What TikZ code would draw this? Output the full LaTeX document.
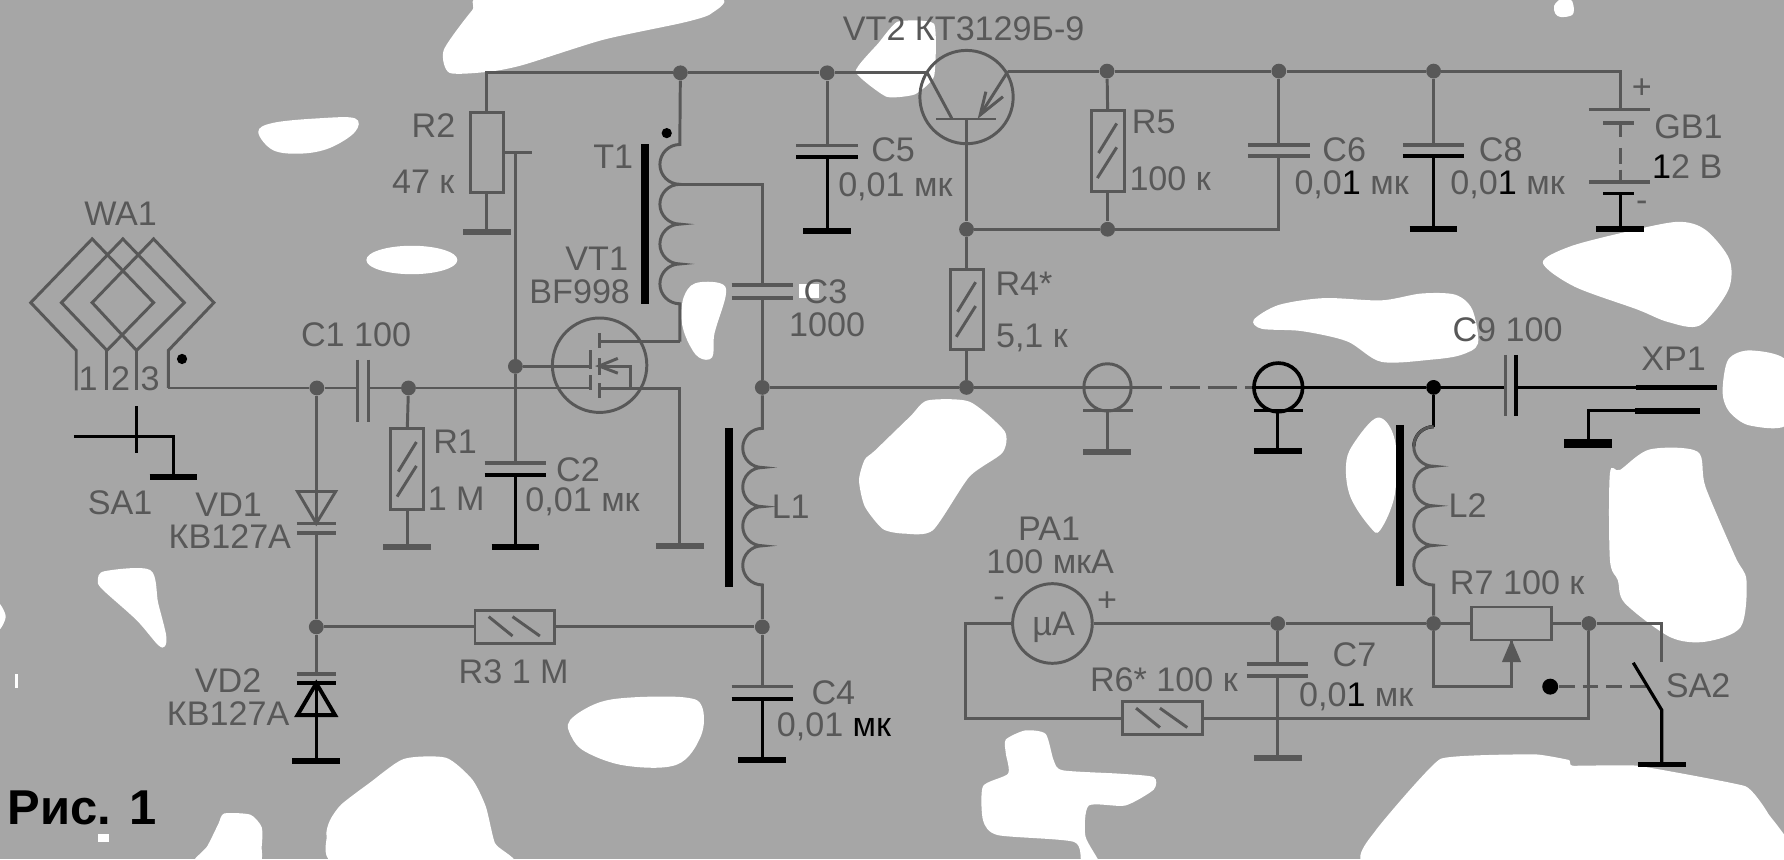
\documentclass[tikz,border=0pt]{standalone}
\usepackage{fontspec}
\setmainfont{Liberation Sans}
\definecolor{ink}{HTML}{585858}
\definecolor{bgray}{HTML}{A6A6A6}
\tikzset{
  wire/.style={draw=ink,line width=1.3pt},
  wirek/.style={draw=black,line width=1.4pt},
  core/.style={draw=black,line width=3.5pt},
  dot/.style={circle,fill=ink,minimum size=6.5pt,inner sep=0pt},
  dotk/.style={circle,fill=black,minimum size=6.5pt,inner sep=0pt},
  resbox/.style={rectangle,draw=ink,line width=1.3pt,inner sep=0pt},
  resv/.style={resbox,minimum width=14.5pt,minimum height=35.5pt},
  resh/.style={resbox,minimum width=35pt,minimum height=14.5pt},
  lbl/.style={text=ink,inner sep=0pt,font=\fontsize{15}{17}\selectfont},
  blob/.style={fill=white}
}
\begin{document}
\begin{tikzpicture}[x=0.5pt,y=-0.5pt]
\useasboundingbox (0,0) rectangle (1568,755);
\fill[bgray] (0,0) rectangle (1568,755);

% white patches
\fill[blob] plot[smooth cycle,tension=.4] coordinates {(390,44) (415,9) (430,-3) (627,-3) (625,12) (600,20) (530,35) (460,57) (430,63) (395,64)};
\fill[blob] plot[smooth cycle,tension=.3] coordinates {(752,63) (772,38) (789,19) (821,21) (821,67) (804,83) (779,85)};
\fill[blob] plot[smooth cycle,tension=.6] coordinates {(227,116) (240,108) (280,104) (312,104) (312,116) (290,130) (265,135) (240,132)};
\fill[blob] (362,228.5) ellipse [x radius=40,y radius=12.5];
\fill[blob] plot[smooth cycle,tension=.6] coordinates {(601,261) (611,249) (633,249) (638,259) (628,293) (626,314) (614,314) (604,299) (599,281)};
\fill[blob] (702,250) rectangle (720,262);
\fill[blob] plot[smooth cycle,tension=.5] coordinates {(86,510) (92,502) (132,501) (139,530) (146,558) (145,568) (139,567) (120,545) (90,518)};
\fill[blob] plot[smooth cycle,tension=.6] coordinates {(-2,530) (5,542) (-2,554)};
\fill[blob] (13,592) rectangle (16,605);
\fill[blob] (86,733) rectangle (96,740);
\fill[blob] plot[smooth cycle,tension=.6] coordinates {(501,633) (525,618) (555,613) (602,613) (617,621) (616,647) (595,672) (550,673) (515,661) (502,647)};
\fill[blob] plot[smooth cycle,tension=.4] coordinates {(355,667) (392,666) (415,685) (427,709) (435,741) (448,760) (298,760) (287,735) (290,721) (300,707) (325,688)};
\fill[blob] plot[smooth cycle,tension=.4] coordinates {(192,724) (197,715) (220,716) (230,727) (230,744) (226,760) (170,760) (182,744)};
\fill[blob] plot[smooth cycle,tension=.4] coordinates {(884,650) (901,642) (919,645) (926,668) (934,677) (984,680) (1014,683) (1014,694) (989,708) (957,708) (954,735) (967,760) (951,760) (944,740) (877,734) (864,721) (864,691) (886,680) (884,662)};
\fill[blob] plot[smooth cycle,tension=.2] coordinates {(1204,760) (1209,730) (1266,667) (1349,663) (1379,668) (1382,673) (1439,673) (1534,691) (1554,715) (1572,760)};
\fill[blob] plot[smooth cycle,tension=.5] coordinates {(1415,416) (1424,413) (1450,395) (1492,397) (1499,428) (1525,489) (1535,510) (1530,551) (1499,564) (1468,560) (1428,530) (1422,510) (1415,492)};
\fill[blob] plot[smooth cycle,tension=.5] coordinates {(1356,231) (1379,217) (1424,205) (1474,195) (1499,202) (1520,228) (1519,255) (1494,286) (1466,283) (1439,272) (1384,252)};
\fill[blob] plot[smooth cycle,tension=.5] coordinates {(1102,281) (1124,268) (1164,262) (1214,264) (1249,258) (1279,259) (1294,272) (1299,302) (1284,312) (1259,316) (1214,318) (1184,300) (1144,291) (1109,289)};
\fill[blob] plot[smooth cycle,tension=.6] coordinates {(1366,5) (1372,-1) (1380,-1) (1383,5) (1382,13) (1372,15) (1367,12)};
\fill[blob] plot[smooth cycle,tension=.5] coordinates {(1514,345) (1519,316) (1539,308) (1572,319) (1572,372) (1538,374) (1520,362)};
\fill[blob] plot[smooth cycle,tension=.4] coordinates {(815,352) (852,353) (883,379) (881,398) (852,419) (820,466) (795,469) (776,465) (760,445) (755,422) (760,404) (769,396) (800,366)};
\fill[blob] plot[smooth cycle,tension=.6] coordinates {(1211,367) (1226,387) (1226,434) (1213,466) (1204,463) (1187,437) (1183,410) (1189,391)};

% junctions
\foreach \n/\x/\y in {topA/598/64,topB/727/64,topC/973/62.5,topD/1124/62.5,topE/1260/62.5,
  nIn/278.5/341,nCa/359/341,nGate/453/322,nOut/670/340.5,nRf/849.5/340.5,
  nBase/849.5/201.5,nRc/973.5/201.5,nVd/278/551,nLo/670/551,nCm/1123/548,nRa/1260/548,nRb/1396.5/548}
  \node[dot] (\n) at (\x,\y) {};
\node[dotk] (nXp) at (1260,340.5) {};

% resistors
\node[resv] (R1) at (358,412.5) {};
\node[resv] (R2) at (428,134) {};
\node[resh] (R3) at (452.5,551) {};
\node[resv] (R4) at (849.5,272) {};
\node[resv] (R5) at (973.5,132.5) {};
\node[resh] (R6) at (1021.5,631.4) {};
\node[resh] (R7) at (1328.5,548) {};
\foreach \r in {R1,R4,R5} {
  \draw[wire] ([shift={(8,-24)}]\r.center) -- ([shift={(-8,2)}]\r.center);
  \draw[wire] ([shift={(8,-3)}]\r.center) -- ([shift={(-9,24)}]\r.center);
}
\foreach \r in {R3,R6} {
  \draw[wire] ([shift={(-23,-9)}]\r.center) -- ([shift={(-2,8)}]\r.center);
  \draw[wire] ([shift={(-2,-9)}]\r.center) -- ([shift={(22,8)}]\r.center);
}

% capacitors, plates across the lead
\foreach \n/\x/\ya/\yb/\ca/\cb in {C2/453/407/417.5/ink/black,C3/670/250.5/262/ink/ink,
  C4/670/603.5/614.5/ink/black,C5/727/128/138/ink/black,C6/1124/127.5/137/ink/ink,
  C7/1123/583.5/594/ink/ink,C8/1260/127.5/137/ink/black} {
  \coordinate (\n a) at (\x,\ya);
  \coordinate (\n b) at (\x,\yb);
  \draw[line width=1.5pt,\ca] ([shift={(-27,0)}]\n a) -- ([shift={(27,0)}]\n a);
  \draw[line width=1.5pt,\cb] ([shift={(-27,0)}]\n b) -- ([shift={(27,0)}]\n b);
}

% ground bars
\foreach \n/\x/\y/\c in {gRtwo/428/204/ink,gSw/152.5/419/black,gRone/358/481/ink,gCtwo/453/481/black,
  gVd/278/669/black,gVt/597.5/480/ink,gCfive/727/203/black,gBat/1424/201.5/black,gCeight/1260/201.5/black,
  gCfour/670/668/black,gCxa/973/397/ink,gCxb/1123/396.5/black,gCseven/1123/666.5/ink,gSwb/1460.5/672/black} {
  \coordinate (\n) at (\x,\y);
  \draw[line width=2.5pt,\c] ([shift={(-21,0)}]\n) -- ([shift={(21,0)}]\n);
}
\coordinate (gXp) at (1396,390);
\draw[line width=4pt,black] ([shift={(-21,0)}]gXp) -- ([shift={(21,0)}]gXp);

% supply rail and its branches
\coordinate (railL) at (428,64);
\coordinate (vtE) at (815,64);
\coordinate (vtC) at (886,62.5);
\coordinate (railR) at (1424,62.5);
\coordinate (batT) at (1424,96);
\draw[wire] (R2.north) -- (railL) -- (topA) -- (topB) -- (vtE);
\draw[wire] (vtC) -- (topC) -- (topD) -- (topE) -- (railR) -- (batT);
\draw[wire] (R2.south) -- (gRtwo);
\draw[wire] (topB) -- (C5a);
\draw[wirek] (C5b) -- (gCfive);
\draw[wire] (topC) -- (R5.north);
\draw[wire] (R5.south) -- (nRc);
\draw[wire] (topD) -- (C6a);
\draw[wire] (C6b) |- (nRc);
\draw[wire] (nRc) -- (nBase);
\draw[wire] (topE) -- (C8a);
\draw[wirek] (C8b) -- (gCeight);

% battery
\draw[line width=1.5pt,ink] (1396.5,96) -- (1450.5,96);
\draw[line width=1.5pt,ink] (1409,108) -- (1436.5,108);
\draw[wire] (1424,108) -- (1424,120) (1424,130) -- (1424,144) (1424,149) -- (1424,160);
\draw[line width=1.5pt,ink] (1396.5,160) -- (1450.5,160);
\draw[line width=1.5pt,black] (1409,170) -- (1436.5,170);
\draw[wirek] (1424,170) -- (gBat);

% VT2
\node[draw=ink,line width=1.3pt,circle,minimum size=41pt,inner sep=0pt] (VT2) at (849.5,85.3) {};
\coordinate (vtB) at (849.5,104.6);
\draw[wire] (823,104.6) -- (875.5,104.6);
\draw[wire] (vtE) -- (836.5,104);
\draw[wire] (vtC) -- (861.5,101);
\draw[wire] (866.5,80.6) -- (861.5,101) -- (881.5,85);
\draw[wire] (vtB) -- (nBase) -- (R4.north);
\draw[wire] (R4.south) -- (nRf);

% antenna
\draw[wire] (67,343) -- (67,308) -- (27,266) -- (81,210) -- (135,266) -- (94,308) -- (54,266) -- (108,210) -- (162,266) -- (120,308) -- (81,266) -- (135,210) -- (188,266) -- (148,308) -- (148,341);
\draw[wire] (94,308) -- (94,343);
\draw[wire] (120,308) -- (120,343);
\fill[black] (160,315.5) circle [radius=4.5];

% SA1
\coordinate (swA) at (65,384);
\coordinate (swB) at (152.5,384);
\draw[wirek] (swA) -- (swB) -- (gSw);
\draw[line width=1.7pt,black] (120,357) -- (120,398);

% input line
\coordinate (antEnd) at (148,341);
\coordinate (caL) at (314,341);
\coordinate (caR) at (324,341);
\coordinate (gateB) at (519,341);
\coordinate (gateA) at (519,322);
\draw[wire] (antEnd) -- (nIn) -- (caL);
\draw[wire] (caR) -- (nCa) -- (gateB);
\draw[wire] (314,316) -- (314,371);
\draw[wire] (324,316) -- (324,371);
\draw[wire] (nCa) -- (R1.north);
\draw[wire] (R1.south) -- (gRone);

% wiper of R2 and the gate
\coordinate (wipR) at (468,134);
\coordinate (wipV) at (453,134);
\draw[wire] (R2.east) -- (wipR);
\draw[wire] (wipV) -- (nGate) -- (C2a);
\draw[wirek] (C2b) -- (gCtwo);
\draw[wire] (nGate) -- (gateA);

% VT1
\node[draw=ink,line width=1.3pt,circle,minimum size=41.5pt,inner sep=0pt] (VT1) at (527,321) {};
\draw[wire] (519,308) -- (519,324) (519,330) -- (519,343);
\draw[wire] (526.5,293) -- (526.5,306) (526.5,315) -- (526.5,330) (526.5,337) -- (526.5,350);
\draw[wire] (543,315) -- (526.5,321.7) -- (543,328);
\coordinate (vtD) at (526.5,300.3);
\coordinate (vtS) at (526.5,341.3);
\coordinate (vtBd) at (526.5,321.7);
\coordinate (cnD) at (597.5,300.3);
\coordinate (cnS) at (597.5,341.3);
\draw[wire] (vtBd) -- (554.5,321.7) -- (554.5,341.3);
\draw[wire] (vtD) -- (cnD);
\draw[wire] (vtS) -- (cnS) -- (gVt);

% T1
\coordinate (tTop) at (597.5,127);
\coordinate (tTap) at (597.5,162);
\coordinate (tBot) at (597.5,267);
\draw[core] (567,127) -- (567,267);
\draw[wire] (topA) -- (tTop) arc[start angle=270,end angle=90,radius=17.5] arc[start angle=270,end angle=90,radius=17.5] arc[start angle=270,end angle=90,radius=17.5] arc[start angle=270,end angle=90,radius=17.5] -- (cnD);
\fill[black] (586,117) circle [radius=4.5];
\coordinate (tCorner) at (670,162);
\draw[wire] (tTap) -- (tCorner) -- (C3a);
\draw[wire] (C3b) -- (nOut);

% L1 and the low branch
\coordinate (lTop) at (670,376.5);
\draw[core] (640.5,376.5) -- (640.5,516);
\draw[wire] (nOut) -- (lTop) arc[start angle=270,end angle=90,radius=17.2] arc[start angle=270,end angle=90,radius=17.2] arc[start angle=270,end angle=90,radius=17.2] arc[start angle=270,end angle=90,radius=17.2] -- (nLo);
\draw[wire] (nLo) -- (C4a);
\draw[wirek] (C4b) -- (gCfour);
\draw[wire] (nVd) -- (R3.west);
\draw[wire] (R3.east) -- (nLo);

% VD1, VD2
\coordinate (dOne) at (278,460);
\coordinate (dTwo) at (278,592.5);
\coordinate (dThree) at (278,600.5);
\draw[wire] (nIn) -- (278.5,432);
\draw[wire] (261.5,432) -- (295,432) -- (dOne) -- cycle;
\draw[wire] (278,432) -- (dOne);
\draw[line width=1.5pt,ink] (261,460) -- (295,460);
\draw[line width=1.5pt,ink] (261,468.5) -- (295,468.5);
\draw[wire] (278,468.5) -- (nVd) -- (dTwo);
\draw[line width=1.5pt,ink] (261,592.5) -- (295,592.5);
\draw[line width=1.7pt,black] (261,600.5) -- (295,600.5);
\draw[line width=1.7pt,black] (261.5,628.5) -- (294.5,628.5) -- (dThree) -- cycle;
\draw[wirek] (dThree) -- (gVd);

% output line and coax
\node[draw=ink,line width=1.3pt,circle,minimum size=20.8pt,inner sep=0pt] (cxA) at (973.4,340.5) {};
\node[draw=black,line width=1.6pt,circle,minimum size=21.4pt,inner sep=0pt] (cxB) at (1123.5,340.5) {};
\draw[wire] (nOut) -- (nRf) -- (cxA.east);
\draw[wire,dash pattern=on 13pt off 3.5pt] (cxA.east) -- (cxB.west);
\coordinate (caNine) at (1323,340.5);
\coordinate (cbNine) at (1332.5,340.5);
\coordinate (xpA) at (1438,340.5);
\coordinate (xpB) at (1509,340.5);
\draw[wirek] (cxB.west) -- (nXp) -- (caNine);
\draw[wirek] (cbNine) -- (xpA);
\draw[line width=2.5pt,black] (xpA) -- (xpB);
\draw[wire] (1323,312) -- (1323,366);
\draw[wirek] (1332.5,312) -- (1332.5,366);
\coordinate (xpC) at (1437,361);
\coordinate (xpD) at (1494,361);
\coordinate (xpE) at (1396,361);
\draw[line width=2.5pt,black] (xpC) -- (xpD);
\draw[wirek] (gXp) -- (xpE) -- (xpC);
% stubs under the coax rings
\draw[line width=1.5pt,ink] (952,360.8) -- (995.4,360.8);
\draw[line width=1.7pt,black] (1102,360.8) -- (1145,360.8);
\draw[wire] (973,360.8) -- (gCxa);
\draw[wirek] (1123,360.8) -- (gCxb);

% L2
\coordinate (mTop) at (1260,375);
\draw[core] (1230.5,373.5) -- (1230.5,515);
\draw[wirek] (nXp) -- (mTop);
\draw[wirek] (mTop) arc[start angle=270,end angle=180,radius=17.4];
\draw[wire] (mTop) arc[start angle=270,end angle=90,radius=17.4] arc[start angle=270,end angle=90,radius=17.4] arc[start angle=270,end angle=90,radius=17.4] arc[start angle=270,end angle=90,radius=17.4] -- (nRa);

% PA1, R6, R7, SA2
\node[draw=ink,line width=1.3pt,circle,minimum size=35pt,inner sep=0pt] (PA1) at (925,548) {};
\coordinate (loopA) at (849,548);
\coordinate (loopB) at (849,631.4);
\coordinate (swTop) at (1460.5,548);
\coordinate (swEnd) at (1460.5,581.5);
\coordinate (wipA) at (1328.5,603.5);
\coordinate (wipB) at (1260,603.5);
\coordinate (wipTip) at (1328.5,562);
\coordinate (bladeA) at (1435.5,582.5);
\coordinate (bladeB) at (1460.5,624);
\node[dotk,minimum size=7pt] (swDot) at (1362.5,603.5) {};
\coordinate (bladeM) at (1449,603.5);
\draw[wire] (PA1.west) -- (loopA) -- (loopB) -- (R6.west);
\draw[wire] (R6.east) -- (1396.5,631.4) -- (nRb);
\draw[wire] (PA1.east) -- (nCm) -- (nRa) -- (R7.west);
\draw[wire] (R7.east) -- (nRb) -- (swTop) -- (swEnd);
\draw[wire] (nCm) -- (C7a);
\draw[wire] (C7b) -- (gCseven);
\draw[wire] (nRa) -- (wipB) -- (wipA) -- (wipTip);
\fill[ink] (wipTip) -- (1337,582) -- (1320,582) -- cycle;
\draw[wire,dash pattern=on 7pt off 3.5pt] (swDot) -- (bladeM);
\draw[wirek] (bladeA) -- (bladeB) -- (gSwb);

% labels
\node[lbl] (tWa) at (106,187.5) {WA1};
\node[lbl] (tOne) at (77.5,333) {1};
\node[lbl] (tTwo) at (106,333) {2};
\node[lbl] (tThree) at (132,333) {3};
\node[lbl] (tSaOne) at (105.5,442) {SA1};
\node[lbl] (tCone) at (313,294.5) {C1 100};
\node[lbl] (tVdOne) at (201,444) {VD1};
\node[lbl] (tVdOneB) at (202,472) {КВ127А};
\node[lbl] (tVdTwo) at (200.5,598) {VD2};
\node[lbl] (tVdTwoB) at (200.5,627) {КВ127А};
\node[lbl] (tRone) at (400,388) {R1};
\node[lbl] (tRoneB) at (401,438) {1 М};
\node[lbl] (tRtwo) at (381,110) {R2};
\node[lbl] (tRtwoB) at (372,160) {47 к};
\node[lbl] (tCtwo) at (508,413) {C2};
\node[lbl] (tCtwoB) at (512,441) {0,01 мк};
\node[lbl] (tRthree) at (451.5,590) {R3 1 М};
\node[lbl] (tTone) at (539,138) {T1};
\node[lbl] (tVtOne) at (524.5,227) {VT1};
\node[lbl] (tVtOneB) at (509.5,256) {BF998};
\node[lbl] (tCthree) at (725.5,256) {C3};
\node[lbl] (tCthreeB) at (727,285.5) {1000};
\node[lbl] (tCfive) at (785,132) {C5};
\node[lbl] (tCfiveB) at (787,164) {0,01 мк};
\node[lbl] (tCfour) at (732.5,609) {C4};
\node[lbl] (tCfourB) at (733,638.5) {0,01 {\color{black}мк}};
\node[lbl] (tLone) at (695,445.5) {L1};
\node[lbl] (tVtTwo) at (847,25) {VT2 КТ3129Б-9};
\node[lbl] (tRfive) at (1014,107) {R5};
\node[lbl] (tRfiveB) at (1028.5,157) {100 к};
\node[lbl] (tRfour) at (900,249) {R4*};
\node[lbl] (tRfourB) at (907,297) {5,1 к};
\node[lbl] (tCsix) at (1181.5,132) {C6};
\node[lbl] (tCsixB) at (1188,162.5) {0,0{\color{black}1} мк};
\node[lbl] (tCeight) at (1319,132) {C8};
\node[lbl] (tCeightB) at (1325,162.5) {0,0{\color{black}1} мк};
\node[lbl] (tGb) at (1484,111) {GB1};
\node[lbl] (tGbB) at (1483,146.5) {{\color{black}1}2 В};
\node[lbl] (tPlus) at (1443,77.5) {+};
\node[lbl] (tMinus) at (1443,181) {-};
\node[lbl] (tCnine) at (1325,290) {C9 100};
\node[lbl] (tXp) at (1471,315) {XP1};
\node[lbl] (tLtwo) at (1290,444) {L2};
\node[lbl] (tPa) at (922,465) {PA1};
\node[lbl] (tPaB) at (923,493.5) {100 мкА};
\node[lbl] (tMu) at (926,551) {µA};
\node[lbl] (tPaM) at (878,529) {-};
\node[lbl] (tPaP) at (973,529) {+};
\node[lbl] (tRseven) at (1333.5,512.5) {R7 100 к};
\node[lbl] (tCseven) at (1190.5,575.5) {C7};
\node[lbl] (tCsevenB) at (1192,612) {0,0{\color{black}1} мк};
\node[lbl] (tRsix) at (1023,597.5) {R6* 100 к};
\node[lbl] (tSaTwo) at (1492.5,603) {SA2};
\node[inner sep=0pt,font=\fontsize{21.5}{24}\selectfont\bfseries] (tFig) at (72,710.5) {Рис. 1};
\end{tikzpicture}
\end{document}
